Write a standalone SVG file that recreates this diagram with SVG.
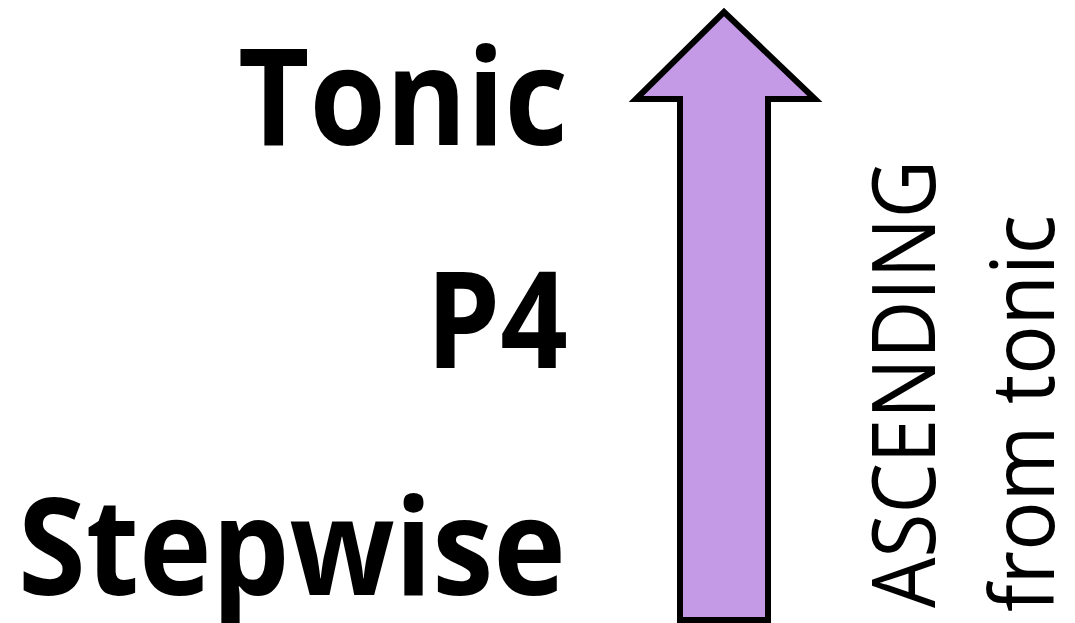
<svg xmlns="http://www.w3.org/2000/svg" width="1075" height="623" viewBox="0 0 1075 623">
<style>
.big{font-family:"Open Sans","Noto Sans","Liberation Sans",sans-serif;font-weight:bold;font-size:134px;fill:#000;text-anchor:end}
.side{font-family:"Open Sans","Noto Sans","Liberation Sans",sans-serif;font-size:87px;fill:#000}
.arrow{fill:#C49AE6;stroke:#000;stroke-width:6;stroke-linejoin:miter;stroke-miterlimit:10}
</style>
<rect width="1075" height="623" fill="#fff"/>
<g id="labels">
<text class="big" x="568" y="145" textLength="330" lengthAdjust="spacingAndGlyphs">Tonic</text>
<text class="big" x="568" y="368" textLength="142" lengthAdjust="spacingAndGlyphs">P4</text>
<text class="big" x="566" y="595" textLength="548" lengthAdjust="spacingAndGlyphs">Stepwise</text>
</g>
<g id="connectors">
<polygon class="arrow" points="680,620 768,620 768,99 815,99 724,12 636,99 680,99"/>
</g>
<g id="side-labels">
<text class="side" transform="translate(935,608) rotate(-90)" textLength="448" lengthAdjust="spacingAndGlyphs">ASCENDING</text>
<text class="side" transform="translate(1054,612) rotate(-90)" textLength="397" lengthAdjust="spacingAndGlyphs">from tonic</text>
</g>
</svg>
